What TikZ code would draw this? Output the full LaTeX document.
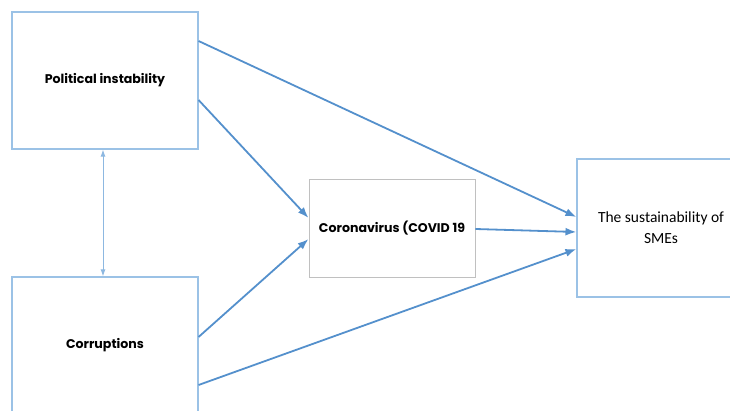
\documentclass[tikz,border=0pt]{standalone}
\usepackage{fontspec}
\setmainfont{Carlito}
\newfontfamily\boxfont{Poppins}
\usetikzlibrary{arrows.meta}

\definecolor{my_line}{RGB}{84,144,204}
\definecolor{my_frame}{RGB}{155,194,230}
\definecolor{my_gray}{RGB}{192,192,192}

\begin{document}
\begin{tikzpicture}[x=1pt, y=1pt,
    box/.style  = {draw=my_frame, line width=1.1pt, fill=white,
                   inner sep=0pt, align=center},
    tag/.style  = {font=\boxfont\bfseries\fontsize{12.6}{15}\selectfont},
    link/.style = {draw=my_line, line width=1.8pt,
                   -{Latex[length=11pt, width=8pt]}},
    both/.style = {draw=my_frame!80!my_line, line width=1pt,
                   {Latex[length=7pt, width=5pt]}-{Latex[length=7pt, width=5pt]}}]

\useasboundingbox (0,0) rectangle (730,410);
\clip (0,0) rectangle (730,410);

% causes
\node[box, tag, minimum width=186pt, minimum height=137pt] (pol) at (105,329.5) {Political instability};
\node[box, tag, minimum width=186pt, minimum height=137pt] (cor) at (105,64.5) {Corruptions};

% mediator
\node[box, tag, draw=my_gray, line width=0.9pt, minimum width=166pt, minimum height=98pt] (cov) at (392,182) {Coronavirus (COVID 19};

% outcome
\node[box, minimum width=168pt, minimum height=138pt,
      font=\fontsize{15.5}{21}\selectfont] (sme) at (661,182) {The sustainability of\\SMEs};

\draw[both] ([xshift=-2pt]pol.south) -- ([xshift=-2pt]cor.north);

\draw[link] ([yshift=39.5pt]pol.east)  -- ([yshift=11pt]sme.west);
\draw[link] ([yshift=-19.5pt]pol.east) -- ([yshift=10pt]cov.west);
\draw[link] ([yshift=8.5pt]cor.east)   -- ([yshift=-11pt]cov.west);
\draw[link] ([yshift=-39.5pt]cor.east) -- ([yshift=-21pt]sme.west);
\draw[link] ([yshift=-1pt]cov.east)    -- ([yshift=-4pt]sme.west);

\end{tikzpicture}
\end{document}
